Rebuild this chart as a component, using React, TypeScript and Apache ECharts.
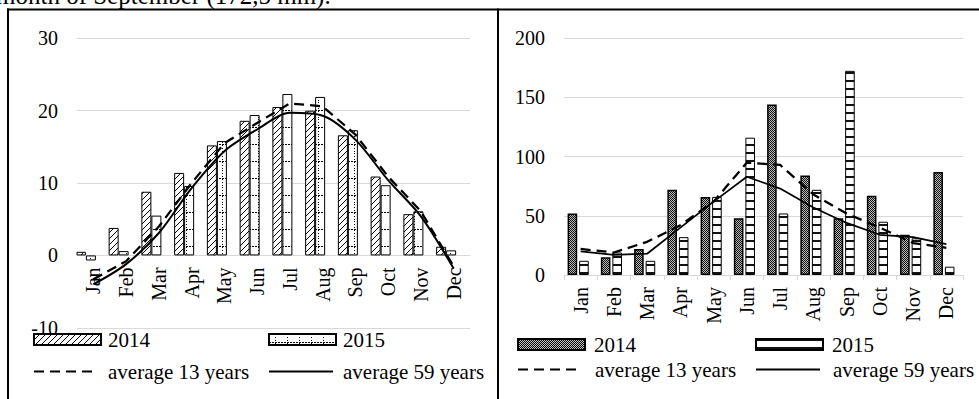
import React, { useEffect, useRef } from 'react';
import * as echarts from 'echarts';

const months = ['Jan', 'Feb', 'Mar', 'Apr', 'May', 'Jun', 'Jul', 'Aug', 'Sep', 'Oct', 'Nov', 'Dec'];
const temp2014 = [0.5, 3.8, 8.8, 11.4, 15.2, 18.6, 20.5, 20.0, 16.6, 10.9, 5.7, 1.2];
const temp2015 = [-0.7, 0.6, 5.5, 9.6, 15.8, 19.4, 22.3, 21.9, 17.3, 9.7, 6.1, 0.7];
const tempAvg13 = [-3.3, -0.8, 4.0, 10.0, 15.5, 18.3, 21.0, 20.6, 16.7, 10.9, 6.1, -1.5];
const tempAvg59 = [-4.0, -1.2, 3.1, 9.3, 14.4, 17.4, 19.7, 19.3, 16.0, 10.4, 5.4, -1.8];
const rain2014 = [52, 15, 22, 72, 66, 48, 144, 84, 48, 67, 34, 87];
const rain2015 = [12, 19, 12, 32, 66, 116, 52, 72, 172.5, 45, 31, 7];
const rainAvg13 = [22, 19, 28, 42, 62, 95, 93, 68, 52, 40, 27, 23];
const rainAvg59 = [20, 17, 18, 40, 62, 83, 73, 57, 44, 34, 32, 26];
const tempAxis = { min: -10, max: 30, interval: 10 };
const rainAxis = { min: 0, max: 200, interval: 50 };
const legendNames = { y2014: '2014', y2015: '2015', avg13: 'average 13 years', avg59: 'average 59 years' };
const headerText = 'month of September (172,5 mm).';

const FONT = '"Liberation Serif", "Times New Roman", serif';

function makePattern(w: number, h: number, draw: (ctx: CanvasRenderingContext2D) => void) {
  const c = document.createElement('canvas');
  c.width = w;
  c.height = h;
  const ctx = c.getContext('2d') as CanvasRenderingContext2D;
  draw(ctx);
  return { image: c, repeat: 'repeat' } as any;
}

export default function App() {
  const ref = useRef<HTMLDivElement>(null);
  useEffect(() => {
    if (!ref.current) return;
    const chart = echarts.init(ref.current, null, { renderer: 'svg' });

    const hatch = makePattern(6, 6, (ctx) => {
      ctx.fillStyle = '#fff';
      ctx.fillRect(0, 0, 6, 6);
      ctx.strokeStyle = '#000';
      ctx.lineWidth = 1;
      ctx.beginPath();
      ctx.moveTo(0, 6); ctx.lineTo(6, 0);
      ctx.moveTo(-1, 1); ctx.lineTo(1, -1);
      ctx.moveTo(5, 7); ctx.lineTo(7, 5);
      ctx.stroke();
    });
    const dotted = makePattern(12, 17, (ctx) => {
      ctx.fillStyle = '#fff';
      ctx.fillRect(0, 0, 12, 17);
      ctx.fillStyle = '#000';
      for (let x = 0; x < 12; x += 3) ctx.fillRect(x, 8, 2, 1);
      for (let y = 0; y < 17; y += 3) ctx.fillRect(6, y, 1, 1);
    });
    const checker = makePattern(2, 2, (ctx) => {
      ctx.fillStyle = '#bbb';
      ctx.fillRect(0, 0, 2, 2);
      ctx.fillStyle = '#111';
      ctx.fillRect(0, 0, 1, 1);
      ctx.fillRect(1, 1, 1, 1);
    });
    const stripes = makePattern(4, 8, (ctx) => {
      ctx.fillStyle = '#fff';
      ctx.fillRect(0, 0, 4, 8);
      ctx.fillStyle = '#111';
      ctx.fillRect(0, 0, 4, 2);
    });

    const labelStyle = { fontSize: 20, fontFamily: FONT, color: '#000' };
    const strip = (n: string) => n.replace(/^[LR]-/, '');
    const legend = (name: string, left: number, top: number, isBar: boolean, gap: number) => ({
      data: [name],
      left,
      top,
      padding: 0,
      selectedMode: false,
      itemWidth: isBar ? 67 : 64,
      itemHeight: isBar ? 11 : 4,
      ...(isBar ? { icon: 'rect' } : { itemStyle: { opacity: 0, color: 'rgba(0,0,0,0)', borderWidth: 0 } }),
      formatter: strip,
      textStyle: { fontSize: 21, fontFamily: FONT, color: '#000', padding: [0, 0, 0, gap] },
    });

    const option: any = {
      animation: false,
      backgroundColor: '#fff',
      textStyle: { fontFamily: FONT },
      graphic: [
        {
          type: 'text', x: -4, y: -5,
          style: { text: headerText, font: '25px "Liberation Serif"', fill: '#000', verticalAlign: 'middle' },
        },
        { type: 'line', shape: { x1: 7, y1: 9.5, x2: 979, y2: 9.5 }, style: { stroke: '#000', lineWidth: 2 } },
        { type: 'line', shape: { x1: 8, y1: 8.5, x2: 8, y2: 399 }, style: { stroke: '#000', lineWidth: 2 } },
        { type: 'line', shape: { x1: 498, y1: 8.5, x2: 498, y2: 399 }, style: { stroke: '#000', lineWidth: 2 } },
      ],
      grid: [
        { left: 77, top: 38.3, width: 393, height: 289.5 },
        { left: 564, top: 38.3, width: 399, height: 236.7 },
      ],
      xAxis: [
        {
          gridIndex: 0, type: 'category', data: months,
          offset: -72.4,
          axisLine: { onZero: false, lineStyle: { color: '#d9d9d9', width: 1 } },
          axisTick: { show: false },
          axisLabel: { ...labelStyle, rotate: 90, margin: 12, interval: 0 },
        },
        {
          gridIndex: 1, type: 'category', data: months,
          axisLine: { lineStyle: { color: '#d9d9d9', width: 1 } },
          axisTick: { show: true, length: 5, lineStyle: { color: '#d9d9d9' } },
          axisLabel: { ...labelStyle, rotate: 90, margin: 12, interval: 0 },
        },
      ],
      yAxis: [
        {
          gridIndex: 0, type: 'value', ...tempAxis,
          axisLine: { show: false }, axisTick: { show: false },
          splitLine: { lineStyle: { color: '#d9d9d9', width: 1 } },
          axisLabel: { ...labelStyle, margin: 19 },
        },
        {
          gridIndex: 1, type: 'value', ...rainAxis,
          axisLine: { show: false }, axisTick: { show: false },
          splitLine: { lineStyle: { color: '#d9d9d9', width: 1 } },
          axisLabel: { ...labelStyle, margin: 19 },
        },
      ],
      legend: [
        legend('L-' + legendNames.y2014, 33, 329, true, 2),
        legend('L-' + legendNames.y2015, 268, 329, true, 2),
        legend('L-' + legendNames.avg13, 33, 361, false, 5),
        legend('L-' + legendNames.avg59, 268, 361, false, 5),
        legend('R-' + legendNames.y2014, 517, 334, true, 4),
        legend('R-' + legendNames.y2015, 755, 334, true, 4),
        legend('R-' + legendNames.avg13, 517, 359, false, 8),
        legend('R-' + legendNames.avg59, 755, 359, false, 8),
      ],
      series: [
        {
          name: 'L-' + legendNames.y2014, type: 'bar', xAxisIndex: 0, yAxisIndex: 0, data: temp2014,
          barWidth: 10, barGap: '0%',
          itemStyle: { color: hatch, borderColor: '#000', borderWidth: 1 },
        },
        {
          name: 'L-' + legendNames.y2015, type: 'bar', xAxisIndex: 0, yAxisIndex: 0, data: temp2015,
          barWidth: 10, barGap: '0%',
          itemStyle: { color: dotted, borderColor: '#000', borderWidth: 1 },
        },
        { name: 'L-pad', type: 'bar', xAxisIndex: 0, yAxisIndex: 0, data: [], barWidth: 15, barGap: '0%' },
        {
          name: 'L-' + legendNames.avg13, type: 'line', xAxisIndex: 0, yAxisIndex: 0, data: tempAvg13,
          symbol: 'none', z: 5, lineStyle: { color: '#000', width: 2.25, type: [10, 6] },
          itemStyle: { color: 'rgba(0,0,0,0)' },
        },
        {
          name: 'L-' + legendNames.avg59, type: 'line', xAxisIndex: 0, yAxisIndex: 0, data: tempAvg59,
          symbol: 'none', z: 5, smooth: 0.3, lineStyle: { color: '#000', width: 2 },
          itemStyle: { color: 'rgba(0,0,0,0)' },
        },
        {
          name: 'R-' + legendNames.y2014, type: 'bar', xAxisIndex: 1, yAxisIndex: 1, data: rain2014,
          barWidth: 9.6, barGap: '20%',
          itemStyle: { color: checker, borderColor: '#000', borderWidth: 1.5 },
        },
        {
          name: 'R-' + legendNames.y2015, type: 'bar', xAxisIndex: 1, yAxisIndex: 1, data: rain2015,
          barWidth: 9.6, barGap: '20%',
          itemStyle: { color: stripes, borderColor: '#000', borderWidth: 1 },
        },
        { name: 'R-pad', type: 'bar', xAxisIndex: 1, yAxisIndex: 1, data: [], barWidth: 3, barGap: '20%' },
        {
          name: 'R-' + legendNames.avg13, type: 'line', xAxisIndex: 1, yAxisIndex: 1, data: rainAvg13,
          symbol: 'none', z: 5, lineStyle: { color: '#000', width: 2.25, type: [10, 6] },
          itemStyle: { color: 'rgba(0,0,0,0)' },
        },
        {
          name: 'R-' + legendNames.avg59, type: 'line', xAxisIndex: 1, yAxisIndex: 1, data: rainAvg59,
          symbol: 'none', z: 5, lineStyle: { color: '#000', width: 1.75 },
          itemStyle: { color: 'rgba(0,0,0,0)' },
        },
      ],
    };
    chart.setOption(option);
    return () => chart.dispose();
  }, []);
  return (
    <div
      ref={ref}
      style={{ position: 'fixed', left: 0, top: 0, width: 979, height: 399, background: '#fff' }}
    />
  );
}
